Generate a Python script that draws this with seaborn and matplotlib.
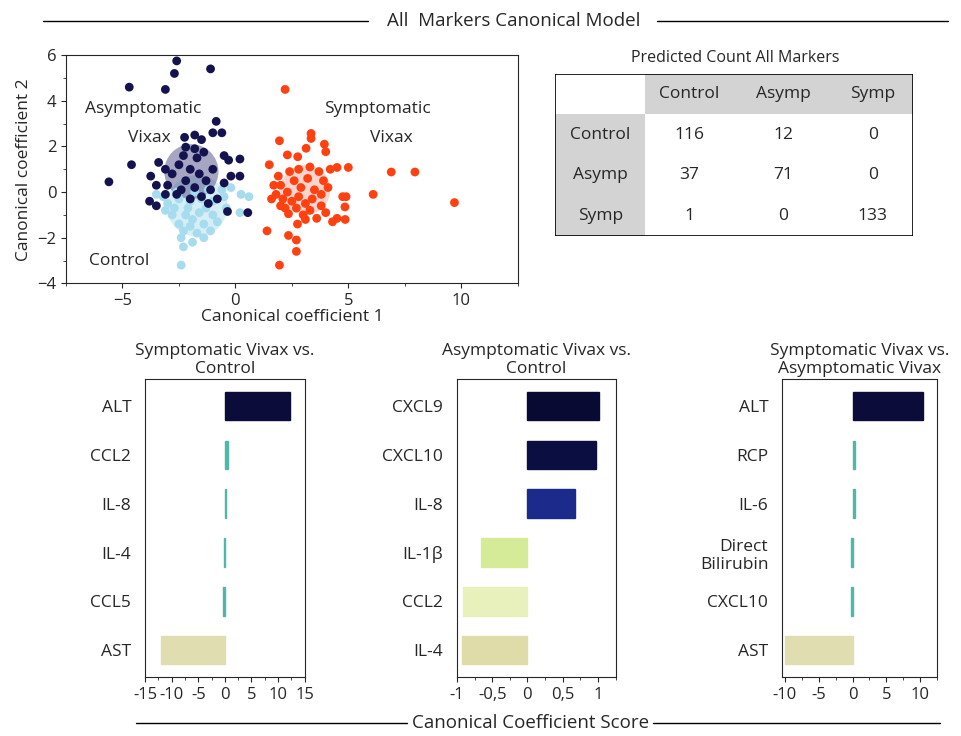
import numpy as np
import pandas as pd
import matplotlib
matplotlib.use("Agg")
import matplotlib.pyplot as plt
import seaborn as sns
from matplotlib.patches import Ellipse, Rectangle
from matplotlib.lines import Line2D
from matplotlib.ticker import AutoMinorLocator

sns.set_style("ticks")
plt.rcParams["font.family"] = ["Open Sans", "DejaVu Sans"]

# --- scatter data (canonical coefficients 1 and 2) ---
asymp_x = [-2.6, -1.1, -2.7, -4.7, -3.1, -0.85, -1.0, -0.6, -2.25, -1.8, -1.5, -2.2, -1.8, -1.4,
           -0.5, -0.3, 0.2, -3.4, -4.6, -3.1, -3.75, -5.6, -3.5, -0.2, 0.2, -0.5, -3.8, -3.5, -3.1,
           0.55, -0.35, -2.5, -2.0, -1.6, -2.2, -1.8, -1.3, -2.8, -1.0, -2.4, -1.5, -2.0, -1.2,
           -2.6, -1.7, -2.3, -1.1, -3.0, -0.8]
asymp_y = [5.75, 5.4, 5.2, 4.6, 4.5, 3.1, 2.6, 2.6, 2.4, 2.5, 2.3, 1.97, 1.9, 1.75,
           1.6, 1.4, 1.45, 1.3, 1.2, 1.0, 0.7, 0.45, 0.3, 0.7, 0.7, 0.4, -0.4, -0.6, -0.1,
           -0.9, -0.85, 1.2, 1.0, 0.8, 0.5, 0.2, 0.5, 0.8, 1.0, 0.1, -0.2, -0.3, -0.5,
           -0.1, 1.5, 1.6, 0.1, 0.3, -0.3]
ctrl_x = [0.25, 0.6, 0.2, -2.3, -1.9, -2.3, -1.4, -2.4, -3.0, -2.5, -2.0, -1.5, -1.0, -0.5,
          -2.8, -2.2, -1.6, -1.0, -2.5, -2.0, -1.4, -0.8, -3.2, -2.6, -1.8, -1.2, -0.6, -0.2,
          -3.5, -1.9, -2.7, -1.3, -0.4, -2.1, -3.1, -1.7, -2.4, -1.1]
ctrl_y = [-0.1, -0.2, -0.9, -1.7, -2.2, -2.4, -2.0, -3.2, -0.5, -0.3, -0.4, -0.3, -0.4, -0.2,
          -1.0, -1.0, -0.9, -1.0, -1.4, -1.5, -1.4, -1.3, -0.2, 0.0, 0.0, 0.1, 0.1, 0.2,
          -0.1, -1.2, -0.7, -0.7, -0.7, -0.7, -0.8, -1.8, -2.0, -1.7]
symp_x = [2.2, 1.95, 1.5, 2.3, 2.76, 3.13, 3.35, 3.35, 3.94, 4.0, 4.5, 5.0, 6.9, 7.95, 6.1, 9.7,
          4.75, 4.9, 4.85, 4.86, 4.5, 4.3, 1.4, 2.35, 2.7, 2.7, 1.95, 2.75, 3.1, 3.6, 2.35,
          2.0, 2.3, 2.6, 2.9, 3.2, 3.5, 2.1, 2.5, 2.8, 3.1, 3.4, 3.8, 3.9, 2.4, 2.8, 3.3, 3.7,
          1.8, 1.7, 2.2, 2.7, 3.3, 3.8, 4.1, 4.2, 1.9, 3.0, 2.0, 4.0, 1.6]
symp_y = [4.5, 2.25, 1.2, 1.63, 1.55, 1.92, 2.57, 2.35, 2.1, 1.77, 1.08, 1.08, 0.88, 0.88, -0.1, -0.46,
          -0.2, -0.2, -0.65, -1.2, -1.15, -1.3, -1.7, -1.9, -2.1, -2.6, -3.2, -1.4, -1.2, -1.15, -0.95,
          0.3, 0.0, 0.5, 0.2, 0.6, 0.1, -0.3, -0.4, -0.2, -0.5, -0.3, -0.1, 0.5, 0.9, 1.0, 1.1, 0.9,
          -0.1, 0.3, -0.7, -0.7, -0.8, -0.6, 0.2, 1.0, 0.7, -1.0, -0.6, -0.9, -0.3]

# --- predicted count table ---
tbl_classes = ["Control", "Asymp", "Symp"]
tbl_counts = [[116, 12, 0], [37, 71, 0], [1, 0, 133]]

# --- canonical coefficient bars ---
p1_labels = ["ALT", "CCL2", "IL-8", "IL-4", "CCL5", "AST"]
p1_values = [12.3, 0.5, 0.25, -0.25, -0.3, -12.0]
p1_colors = ["#0b0c3a", "#4fb8a8", "#4fb8a8", "#4fb8a8", "#4fb8a8", "#e0deb0"]
p2_labels = ["CXCL9", "CXCL10", "IL-8", "IL-1β", "CCL2", "IL-4"]
p2_values = [1.02, 0.98, 0.67, -0.66, -0.92, -0.93]
p2_colors = ["#080a33", "#0b0e40", "#1c2a8c", "#d5eb98", "#e8f0bb", "#dfdcaa"]
p3_labels = ["ALT", "RCP", "IL-6", "Direct\nBilirubin", "CXCL10", "AST"]
p3_values = [10.5, 0.3, 0.3, -0.2, -0.2, -10.0]
p3_colors = ["#0b0c3a", "#4fb8a8", "#4fb8a8", "#4fb8a8", "#4fb8a8", "#e0deb0"]

fig = plt.figure(figsize=(9.61, 7.36), dpi=100)

# title lines
fig.text(0.535, 0.972, "All  Markers Canonical Model", ha="center", va="center", fontsize=13.5)
fig.add_artist(Line2D([0.045, 0.383], [0.972, 0.972], color="k", lw=1))
fig.add_artist(Line2D([0.684, 0.986], [0.972, 0.972], color="k", lw=1))
fig.text(0.552, 0.018, "Canonical Coefficient Score", ha="center", va="center", fontsize=13.5)
fig.add_artist(Line2D([0.142, 0.424], [0.018, 0.018], color="k", lw=1))
fig.add_artist(Line2D([0.679, 0.978], [0.018, 0.018], color="k", lw=1))

# scatter
ax = fig.add_axes([0.0687, 0.615, 0.47, 0.31])
df = pd.concat([
    pd.DataFrame({"x": ctrl_x, "y": ctrl_y, "g": "Control"}),
    pd.DataFrame({"x": symp_x, "y": symp_y, "g": "Symp"}),
    pd.DataFrame({"x": asymp_x, "y": asymp_y, "g": "Asymp"}),
])
pal = {"Control": "#a6dced", "Asymp": "#14134f", "Symp": "#ff4010"}
for e_xy, e_w, e_h, c in [((-1.7, -0.6), 2.7, 2.7, "#a6dced"),
                           ((-1.95, 0.9), 2.4, 2.4, "#3a3a7a"),
                           ((3.1, 0.1), 2.2, 2.2, "#f4a090")]:
    ax.add_patch(Ellipse(e_xy, e_w, e_h, color=c, alpha=0.45, lw=0, zorder=1))
sns.scatterplot(data=df, x="x", y="y", hue="g", palette=pal, s=40, edgecolor="none",
                legend=False, ax=ax, zorder=2)
ax.set_xlim(-7.5, 12.5)
ax.set_ylim(-4, 6)
ax.set_xticks([-5, 0, 5, 10])
ax.set_yticks([-4, -2, 0, 2, 4, 6])
ax.xaxis.set_minor_locator(AutoMinorLocator(2))
ax.yaxis.set_minor_locator(AutoMinorLocator(2))
ax.tick_params(labelsize=12)
ax.set_xlabel("Canonical coefficient 1", fontsize=12.5, labelpad=0)
ax.set_ylabel("Canonical coefficient 2", fontsize=12.5)
ax.text(-4.1, 3.45, "Asymptomatic", fontsize=12.5, ha="center")
ax.text(-3.8, 2.2, "Vixax", fontsize=12.5, ha="center")
ax.text(6.3, 3.45, "Symptomatic", fontsize=12.5, ha="center")
ax.text(6.9, 2.2, "Vixax", fontsize=12.5, ha="center")
ax.text(-6.5, -3.2, "Control", fontsize=12.5)

# table
fig.text(0.765, 0.921, "Predicted Count All Markers", ha="center", va="center", fontsize=11.5)
tx = fig.add_axes([0.578, 0.679, 0.372, 0.221])
tx.set_xlim(0, 4)
tx.set_ylim(0, 4)
tx.axis("off")
grey = "#d3d3d3"
tx.add_patch(Rectangle((1, 3), 3, 1, color=grey, lw=0))
tx.add_patch(Rectangle((0, 0), 1, 3, color=grey, lw=0))
tx.add_patch(Rectangle((0, 0), 4, 4, fill=False, ec="k", lw=1.2))
col_x = [1.5, 2.55, 3.55]
for j, c in enumerate(tbl_classes):
    tx.text(col_x[j], 3.5, c, ha="center", va="center", fontsize=12.5)
for i, c in enumerate(tbl_classes):
    yy = 2.5 - i
    tx.text(0.5, yy, c, ha="center", va="center", fontsize=12.5)
    for j in range(3):
        tx.text(col_x[j], yy, str(tbl_counts[i][j]), ha="center", va="center", fontsize=12.5)

# bars
panels = [
    ([0.151, 0.08, 0.166, 0.405], p1_labels, p1_values, p1_colors, (-15, 15),
     [-15, -10, -5, 0, 5, 10, 15], ["-15", "-10", "-5", "0", "5", "10", "15"],
     "Symptomatic Vivax vs.\nControl"),
    ([0.4755, 0.08, 0.165, 0.405], p2_labels, p2_values, p2_colors, (-1, 1.25),
     [-1, -0.5, 0, 0.5, 1], ["-1", "-0,5", "0", "0,5", "1"],
     "Asymptomatic Vivax vs.\nControl"),
    ([0.814, 0.08, 0.161, 0.405], p3_labels, p3_values, p3_colors, (-10.4, 12.5),
     [-10, -5, 0, 5, 10], ["-10", "-5", "0", "5", "10"],
     "Symptomatic Vivax vs.\nAsymptomatic Vivax"),
]
for rect, labels, vals, cols, xl, ticks, tlabs, title in panels:
    bx = fig.add_axes(rect)
    bdf = pd.DataFrame({"label": labels, "value": vals})
    sns.barplot(data=bdf, x="value", y="label", hue="label", palette=dict(zip(labels, cols)),
                order=labels, legend=False, width=0.58, ax=bx, saturation=1)
    for p, c in zip(bx.patches, cols):
        p.set_edgecolor(c)
        p.set_linewidth(1.0)
    bx.set_xlim(*xl)
    bx.set_ylim(5.55, -0.55)
    bx.set_xticks(ticks)
    bx.set_xticklabels(tlabs)
    bx.xaxis.set_minor_locator(AutoMinorLocator(2))
    bx.tick_params(axis="x", labelsize=12)
    bx.tick_params(axis="y", length=0, labelsize=12.5, pad=10)
    bx.set_xlabel("")
    bx.set_ylabel("")
    bx.set_title(title, fontsize=12.5, pad=4)

fig.savefig("out.png", dpi=100)
